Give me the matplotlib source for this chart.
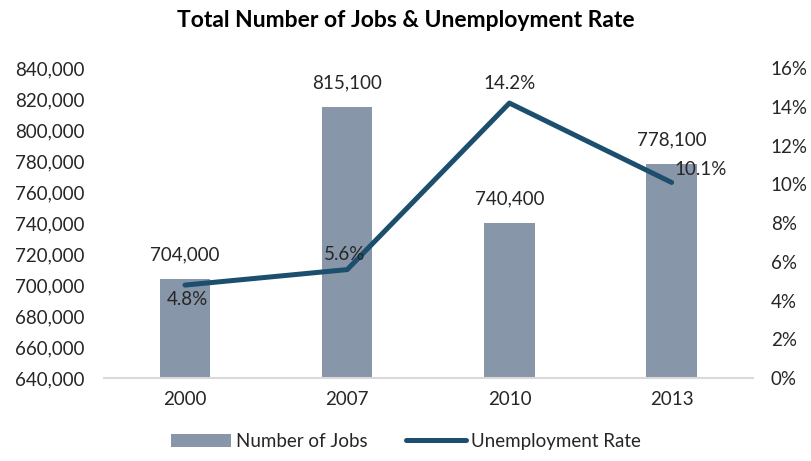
import matplotlib.pyplot as plt
import matplotlib.ticker as mticker
import numpy as np

plt.rcParams['font.family'] = ['Lato', 'DejaVu Sans']

# ── data ──────────────────────────────────────────────────────────────────────
years = ["2000", "2007", "2010", "2013"]
jobs = [704000, 815100, 740400, 778100]
unemployment = [4.8, 5.6, 14.2, 10.1]

BAR_COLOR = "#8796A8"
LINE_COLOR = "#1C4E6E"
TEXT_COLOR = "#262626"
FS = 13.5

fig = plt.figure(figsize=(8.12, 4.61), dpi=100)
ax = fig.add_axes([0.128, 0.180, 0.799, 0.672])
ax2 = ax.twinx()

x = np.arange(len(years))
bars = ax.bar(x, jobs, width=0.31, color=BAR_COLOR, zorder=2, label="Number of Jobs")
ax.set_ylim(640000, 840000)
ax.set_xlim(-0.5, len(years) - 0.5)
ax.yaxis.set_major_locator(mticker.MultipleLocator(20000))
ax.yaxis.set_major_formatter(mticker.FuncFormatter(lambda v, p: f"{int(v):,}"))
ax.set_xticks(x)
ax.set_xticklabels(years)

line, = ax2.plot(x, unemployment, color=LINE_COLOR, linewidth=3.6,
                 solid_capstyle="round", solid_joinstyle="round", zorder=3,
                 label="Unemployment Rate")
ax2.set_ylim(0, 16)
ax2.yaxis.set_major_locator(mticker.MultipleLocator(2))
ax2.yaxis.set_major_formatter(mticker.FuncFormatter(lambda v, p: f"{int(v)}%"))

for a in (ax, ax2):
    for s in a.spines.values():
        s.set_visible(False)
    a.tick_params(length=0, labelsize=FS, colors=TEXT_COLOR)
ax.spines["bottom"].set_visible(True)
ax.spines["bottom"].set_color("#D9D9D9")
ax.spines["bottom"].set_linewidth(1.5)
ax.tick_params(axis="y", pad=14)
ax.tick_params(axis="x", pad=9)
ax2.tick_params(axis="y", pad=13)

# bar value labels
for xi, v in zip(x, jobs):
    ax.annotate(f"{v:,}", (xi, v), xytext=(0, 11), textcoords="offset points",
                ha="center", va="bottom", fontsize=FS, color=TEXT_COLOR)

# line labels
offsets = [(2, -4, "center", "top"), (-2, 5, "center", "bottom"),
           (0, 8, "center", "bottom"), (21, 3, "center", "bottom")]
for xi, v, (dx, dy, ha, va) in zip(x, unemployment, offsets):
    ax2.annotate(f"{v}%", (xi, v), xytext=(dx, dy), textcoords="offset points",
                 ha=ha, va=va, fontsize=FS, color=TEXT_COLOR)

fig.suptitle("Total Number of Jobs & Unemployment Rate", fontsize=16.5,
             fontweight="bold", color="black", y=0.978)

fig.legend(handles=[bars, line], loc="lower center", ncol=2, frameon=False,
           fontsize=FS, bbox_to_anchor=(0.5, -0.012), handlelength=3.2,
           columnspacing=2.0, handletextpad=0.3, labelcolor=TEXT_COLOR)

fig.savefig("out.png", dpi=100)
